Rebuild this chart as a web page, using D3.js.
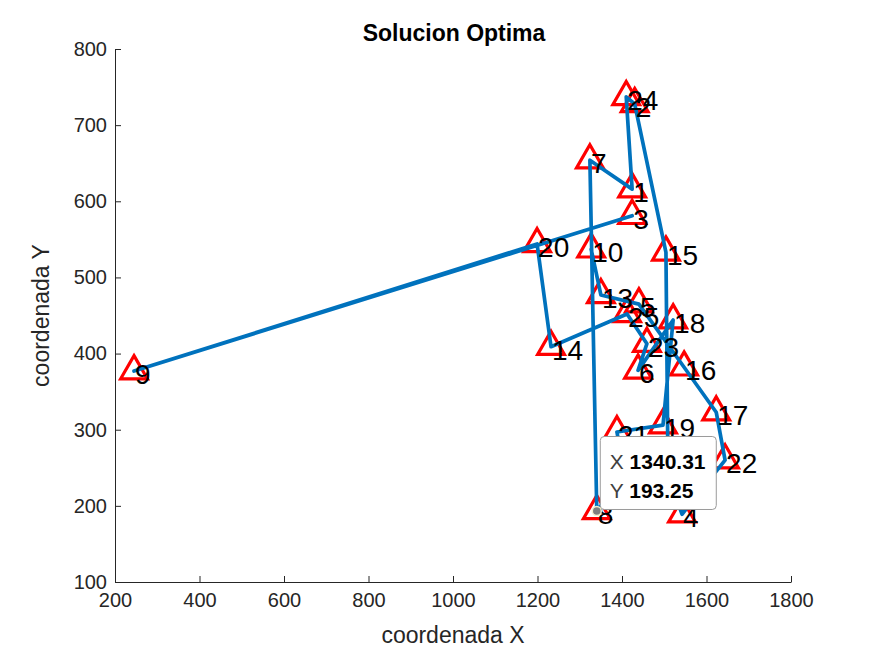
<!DOCTYPE html>
<html>
<head>
<meta charset="utf-8">
<script src="https://cdn.jsdelivr.net/npm/d3@7"></script>
<style>
  html, body { margin: 0; padding: 0; background: #ffffff; }
  svg { display: block; }
</style>
</head>
<body>
<svg id="chart" width="875" height="656"></svg>
<script>
// ---- data ----
const cityIds = [1, 2, 3, 4, 5, 6, 7, 8, 9, 10, 11, 12, 13, 14, 15, 16, 17, 18, 19, 20, 21, 22, 23, 24, 25];
const cityX   = [1424, 1430, 1424, 1542, 1440, 1438, 1324, 1340.31, 245, 1327, 1509, 1407, 1350, 1232, 1504, 1547, 1623, 1521, 1497, 1199, 1388, 1644, 1459, 1410, 1412];
const cityY   = [616, 728, 581, 189, 465, 378, 654, 193.25, 377, 537, 240, 240, 477, 409, 533, 382, 323, 444, 306, 544, 297, 260, 413, 737, 452];
const routeOrder = [3, 9, 20, 14, 25, 23, 6, 18, 19, 21, 12, 8, 7, 1, 24, 2, 15, 11, 4, 22, 17, 16, 5, 13, 10];
const xTicks = [200, 400, 600, 800, 1000, 1200, 1400, 1600, 1800];
const yTicks = [100, 200, 300, 400, 500, 600, 700, 800];
const titleText = "Solucion Optima";
const xLabelText = "coordenada X";
const yLabelText = "coordenada Y";
const tipCity = 8;

(function () {
// ---- layout ----
const svg = d3.select("#chart");
const mLeft = 115, mRight = 791, mTop = 49, mBottom = 582;
const x = d3.scaleLinear().domain([200, 1800]).range([mLeft, mRight]);
const y = d3.scaleLinear().domain([100, 800]).range([mBottom, mTop]);
const axisColor = "#262626";
const font = "'Liberation Sans', Arial, Helvetica, sans-serif";

const cities = cityIds.map((id, i) => ({ id, x: cityX[i], y: cityY[i] }));
const byId = new Map(cities.map(c => [c.id, c]));

// axes
const gx = svg.append("g").attr("transform", `translate(0,${mBottom})`)
  .call(d3.axisBottom(x).tickValues(xTicks).tickSizeInner(-6).tickSizeOuter(0).tickPadding(9).tickFormat(d3.format("d")));
const gy = svg.append("g").attr("transform", `translate(${mLeft},0)`)
  .call(d3.axisLeft(y).tickValues(yTicks).tickSizeInner(-6).tickSizeOuter(0).tickPadding(8).tickFormat(d3.format("d")));
[gx, gy].forEach(g => {
  g.select(".domain").attr("stroke", axisColor).attr("stroke-width", 1);
  g.selectAll(".tick line").attr("stroke", axisColor).attr("stroke-width", 1);
  g.selectAll(".tick text").attr("fill", axisColor).style("font-family", font).style("font-size", "20px");
});
gx.selectAll(".tick text").attr("dy", "0.8em");

// title and axis labels
svg.append("text").attr("x", (mLeft + mRight) / 2 + 1).attr("y", 41).attr("text-anchor", "middle")
  .style("font-family", font).style("font-weight", "bold").style("font-size", "23px").attr("fill", "#000")
  .text(titleText);
svg.append("text").attr("x", (mLeft + mRight) / 2).attr("y", 643).attr("text-anchor", "middle")
  .style("font-family", font).style("font-size", "23px").attr("fill", axisColor)
  .text(xLabelText);
svg.append("text").attr("transform", `translate(49,${(mTop + mBottom) / 2}) rotate(-90)`).attr("text-anchor", "middle")
  .style("font-family", font).style("font-size", "23px").attr("fill", axisColor)
  .text(yLabelText);

// markers (triangles)
const tri = d3.symbol().type(d3.symbolTriangle).size(310);
svg.append("g").selectAll("path").data(cities).join("path")
  .attr("d", tri)
  .attr("transform", d => `translate(${x(d.x)},${y(d.y)})`)
  .attr("fill", "none").attr("stroke", "#ff0000").attr("stroke-width", 3.2);

// route line
const route = routeOrder.map(id => byId.get(id));
svg.append("path").datum(route)
  .attr("d", d3.line().x(d => x(d.x)).y(d => y(d.y)))
  .attr("fill", "none").attr("stroke", "#0072BD").attr("stroke-width", 3.7)
  .attr("stroke-linejoin", "round").attr("stroke-linecap", "round");

// labels
svg.append("g").selectAll("text").data(cities).join("text")
  .attr("x", d => x(d.x) + 1)
  .attr("y", d => y(d.y) + 13)
  .style("font-family", font).style("font-size", "28px").attr("fill", "#000")
  .text(d => d.id);

// data tip
const tc = byId.get(tipCity);
const tx = x(tc.x), ty = y(tc.y);
const tip = svg.append("g");
tip.append("rect").attr("x", tx + 3.5).attr("y", ty - 74.5).attr("width", 116).attr("height", 73).attr("rx", 4)
  .attr("fill", "#ffffff").attr("stroke", "#9a9a9a").attr("stroke-width", 1);
const rowX = tx + 13;
[["X", d3.format(".2f")(tc.x)], ["Y", d3.format(".2f")(tc.y)]].forEach((r, i) => {
  const t = tip.append("text").attr("x", rowX).attr("y", ty - 42 + i * 29)
    .style("font-family", font).style("font-size", "21px");
  t.append("tspan").attr("fill", "#404040").text(r[0] + " ");
  t.append("tspan").attr("fill", "#000").style("font-weight", "bold").text(r[1]);
});
svg.append("circle").attr("cx", tx).attr("cy", ty).attr("r", 4.5)
  .attr("fill", "#7f7f7f").attr("stroke", "#f4efcf").attr("stroke-width", 1.5);
})();
</script>
</body>
</html>
